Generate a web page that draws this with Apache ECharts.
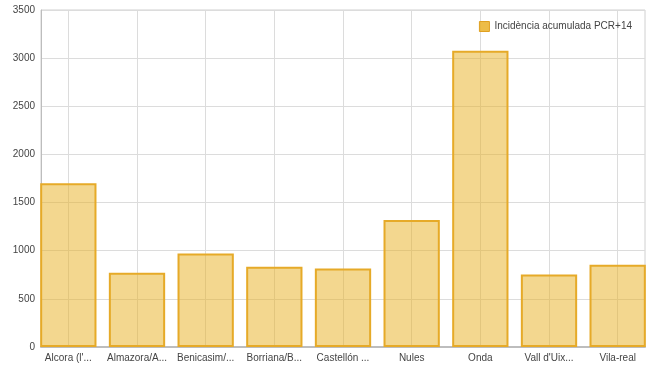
<!DOCTYPE html>
<html>
<head>
<meta charset="utf-8">
<script src="https://cdn.jsdelivr.net/npm/echarts@6/dist/echarts.min.js"></script>
<style>
  html, body { margin: 0; padding: 0; background: #fff; }
  #chart { width: 670px; height: 377px; }
</style>
</head>
<body>
<div id="chart"></div>
<script>
var municipios = ["Alcora (l'...", 'Almazora/A...', 'Benicasim/...', 'Borriana/B...', 'Castellón ...', 'Nules', 'Onda', "Vall d'Uix...", 'Vila-real'];
var incidencia = [1701, 771, 971, 833, 815, 1320, 3077, 753, 854];
var serieNombre = 'Incidència acumulada PCR+14';

var chartDom = document.getElementById('chart');
var myChart = echarts.init(chartDom);
var option;

var fontFam = '"Liberation Sans", Arial, sans-serif';

option = {
  animation: false,
  textStyle: { fontFamily: fontFam },
  legend: {
    right: 33,
    top: 16,
    itemWidth: 10,
    itemHeight: 10,
    itemGap: 6,
    icon: 'rect',
    itemStyle: { color: 'rgba(234,176,40,0.85)', borderColor: '#e0a020', borderWidth: 1 },
    textStyle: { fontSize: 10, color: '#444', fontFamily: fontFam },
    data: [serieNombre]
  },
  grid: [
    // frame + y axis
    { left: 41, right: 25, top: 10, bottom: 30, show: true, borderColor: '#d0d0d0', borderWidth: 1 },
    // bars, wider band so bars touch the frame
    { left: 34, right: 18, top: 10, bottom: 30 }
  ],
  xAxis: [
    {
      gridIndex: 0,
      type: 'value',
      min: 0,
      max: 1,
      axisLine: { show: true, lineStyle: { color: '#bdbdbd', width: 2 } },
      axisTick: { show: false },
      axisLabel: { show: false },
      splitLine: { show: false }
    },
    {
      gridIndex: 1,
      type: 'category',
      data: municipios,
      axisLine: { show: false },
      axisTick: { show: false },
      axisLabel: { color: '#444', fontSize: 10, margin: 6, interval: 0 },
      splitLine: { show: true, alignWithLabel: true, lineStyle: { color: '#dcdcdc' } }
    }
  ],
  yAxis: [
    {
      gridIndex: 0,
      type: 'value',
      min: 0,
      max: 3500,
      interval: 500,
      axisLine: { show: true, lineStyle: { color: '#bdbdbd' } },
      axisTick: { show: false },
      axisLabel: {
        color: '#444',
        fontSize: 10,
        margin: 6,
        formatter: function (v) { return String(v); }
      },
      splitLine: { lineStyle: { color: '#dcdcdc' } }
    },
    {
      gridIndex: 1,
      type: 'value',
      min: 0,
      max: 3500,
      show: false
    }
  ],
  series: [
    {
      name: serieNombre,
      type: 'bar',
      xAxisIndex: 1,
      yAxisIndex: 1,
      barCategoryGap: '18%',
      itemStyle: {
        color: 'rgba(231,175,31,0.5)',
        borderColor: '#e6aa28',
        borderWidth: 2
      },
      data: incidencia
    }
  ]
};

option && myChart.setOption(option);
</script>
</body>
</html>
